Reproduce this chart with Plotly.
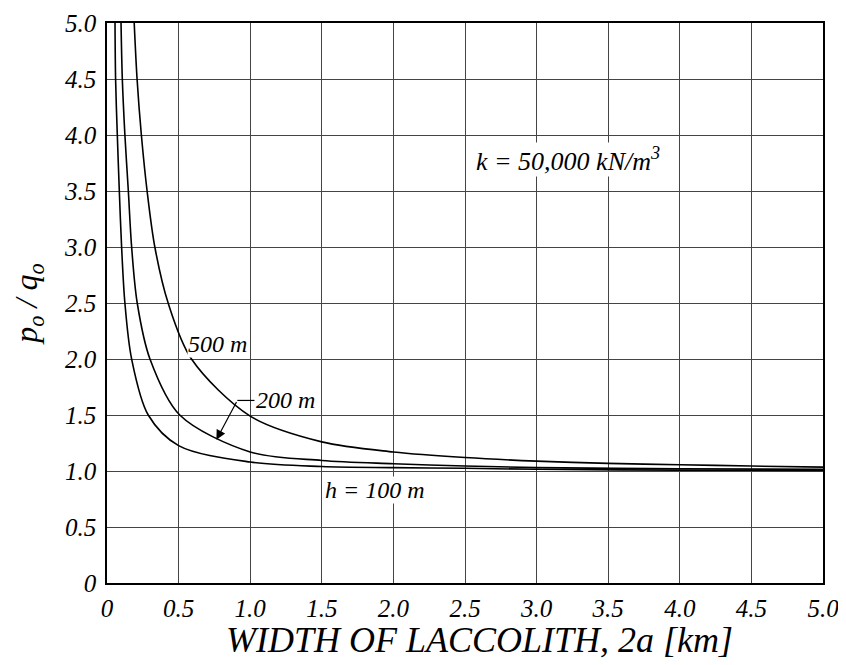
import plotly.graph_objects as go

# Curve data (width 2a in km, p_o/q_o)
x_100 = [0.056, 0.060, 0.072, 0.086, 0.102, 0.125, 0.172, 0.288, 0.5, 1.0, 1.5, 2.0, 2.5, 3.0, 4.0, 5.0]
y_100 = [5.0, 4.5, 4.0, 3.5, 3.0, 2.5, 2.0, 1.5, 1.227, 1.08, 1.04, 1.03, 1.024, 1.015, 1.008, 1.005]

x_200 = [0.098, 0.107, 0.125, 0.149, 0.172, 0.211, 0.30, 0.508, 1.0, 1.5, 2.0, 2.5, 3.0, 4.0, 5.0]
y_200 = [5.0, 4.5, 4.0, 3.5, 3.0, 2.5, 2.0, 1.5, 1.17, 1.094, 1.065, 1.044, 1.03, 1.02, 1.015]

x_500 = [0.19, 0.21, 0.24, 0.28, 0.334, 0.427, 0.59, 1.0, 1.5, 2.0, 2.5, 3.0, 3.5, 4.0, 4.5, 5.0]
y_500 = [5.0, 4.5, 4.0, 3.5, 3.0, 2.5, 2.0, 1.49, 1.26, 1.17, 1.12, 1.088, 1.068, 1.056, 1.044, 1.035]

tick_vals = [0, 0.5, 1.0, 1.5, 2.0, 2.5, 3.0, 3.5, 4.0, 4.5, 5.0]
tick_text = ["0", "0.5", "1.0", "1.5", "2.0", "2.5", "3.0", "3.5", "4.0", "4.5", "5.0"]

FONT = "Liberation Serif, Times New Roman, serif"

fig = go.Figure()
for xs, ys in [(x_100, y_100), (x_200, y_200), (x_500, y_500)]:
    fig.add_trace(go.Scatter(x=xs, y=ys, mode="lines",
                             line=dict(color="black", width=1.6, shape="spline", smoothing=0.9),
                             showlegend=False, hoverinfo="skip"))

axis_common = dict(
    range=[0, 5], tickvals=tick_vals, ticktext=tick_text,
    showgrid=True, gridcolor="#444444", gridwidth=1,
    showline=True, linecolor="black", linewidth=1.5, mirror=True,
    zeroline=False, ticks="", automargin=False, ticklabeloverflow="allow",
    tickfont=dict(family=FONT, size=25, color="black", style="italic"),
)

fig.update_xaxes(**axis_common, ticklabelstandoff=2)
fig.update_yaxes(**axis_common, ticklabelstandoff=4,
                 title=dict(text="p<sub>o</sub> / q<sub>o</sub>",
                            font=dict(family=FONT, size=32, color="black", style="italic"),
                            standoff=18))

# x-axis title (slightly right of centre, as in the reference)
fig.add_annotation(text="WIDTH OF LACCOLITH, 2a [km]", xref="paper", yref="paper",
                   x=0.5, y=0, xshift=14, yshift=-57, yanchor="middle", showarrow=False,
                   font=dict(family=FONT, size=36, color="black", style="italic"))

annots = [
    dict(x=0.77, y=2.13, text="500 m", size=24),
    dict(x=1.03, y=1.63, text="200 m", xanchor="left", size=24),
    dict(x=1.87, y=0.83, text="h = 100 m", size=24),
    dict(x=3.22, y=3.78, text="k = 50,000 kN/m<sup>3</sup>", size=26),
]
for a in annots:
    fig.add_annotation(x=a["x"], y=a["y"], text=a["text"], showarrow=False,
                       xanchor=a.get("xanchor", "center"), bgcolor="white",
                       borderpad=0,
                       font=dict(family=FONT, size=a["size"], color="black", style="italic"))

# leader line + arrow for 200 m label
fig.add_shape(type="line", x0=0.91, y0=1.63, x1=1.03, y1=1.63,
              line=dict(color="black", width=1.2))
fig.add_annotation(x=0.764, y=1.28, ax=0.91, ay=1.63, axref="x", ayref="y",
                   xref="x", yref="y", text="", showarrow=True,
                   arrowhead=2, arrowsize=1.6, arrowwidth=1.2, arrowcolor="black")

fig.update_layout(
    width=846, height=665,
    margin=dict(l=99, r=31, t=15, b=90),
    plot_bgcolor="white", paper_bgcolor="white",
)

fig.write_html("out.html")
